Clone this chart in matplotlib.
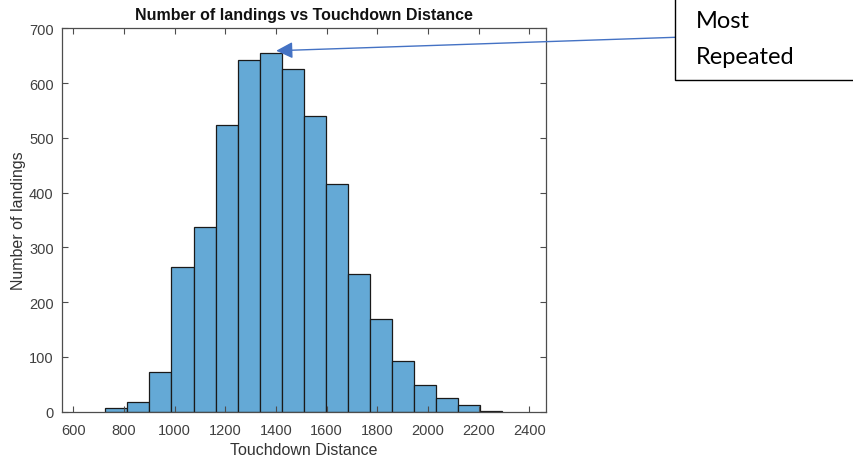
import matplotlib
matplotlib.use("Agg")
import matplotlib.pyplot as plt
import numpy as np
from matplotlib.patches import Rectangle

# Histogram of touchdown distances (auto-binned, 18 bins)
bin_start = 726.3
bin_width = 87.07
counts = [6, 17, 72, 265, 337, 523, 642, 654, 626, 540, 416, 251, 169, 93, 48, 25, 13, 2]
x_ticks = [600, 800, 1000, 1200, 1400, 1600, 1800, 2000, 2200, 2400]
y_ticks = [0, 100, 200, 300, 400, 500, 600, 700]

edges = bin_start + bin_width * np.arange(len(counts) + 1)

plt.rcParams['font.family'] = ['Liberation Sans', 'DejaVu Sans']

fig = plt.figure(figsize=(8.54, 4.64), dpi=100)
ax = fig.add_axes([0.0726, 0.1106, 0.5667, 0.8263])

ax.bar(edges[:-1], counts, width=bin_width, align='edge',
       color='#64a9d6', edgecolor='#1a1a1a', linewidth=0.9)

ax.set_xlim(555.4, 2466)
ax.set_ylim(0, 700)
ax.set_xticks(x_ticks)
ax.set_yticks(y_ticks)

axis_col = '#4d4d4d'
for s in ax.spines.values():
    s.set_color(axis_col)
    s.set_linewidth(0.9)
ax.tick_params(direction='in', length=4, width=0.8, colors=axis_col,
               labelcolor='#404040', labelsize=10.5,
               top=True, right=True)
ax.tick_params(axis='x', pad=8)
ax.tick_params(axis='y', pad=6)

ax.set_title('Number of landings vs Touchdown Distance', fontsize=11.5,
             fontweight='bold', color='#111111', pad=7)
ax.set_xlabel('Touchdown Distance', fontsize=11.5, color='#333333', labelpad=4)
ax.set_ylabel('Number of landings', fontsize=11.5, color='#333333', labelpad=2)

# Callout box on the right, partly cut by the figure edge
box_x = 675.3 / 854
box_y = 1 - 81 / 464
fig.patches.append(Rectangle((box_x, box_y), 0.3, 0.3, transform=fig.transFigure,
                             facecolor='white', edgecolor='black', linewidth=1.0))
fig.text(696 / 854, 1 - 21 / 464, 'Most', fontsize=17, family='Lato',
         va='center', ha='left', color='black')
fig.text(696 / 854, 1 - 57 / 464, 'Repeated', fontsize=17, family='Lato',
         va='center', ha='left', color='black')

# Arrow from the box to the tallest bar
peak = int(np.argmax(counts))
tip_x = edges[peak] + 0.75 * bin_width
tip_y = counts[peak] + 5
ax.annotate('', xy=(tip_x, tip_y), xycoords='data',
            xytext=(box_x, 1 - 38.3 / 464), textcoords='figure fraction',
            arrowprops=dict(arrowstyle='-|>,head_length=1.0,head_width=0.5',
                            color='#4472c4', linewidth=1.0,
                            shrinkA=0, shrinkB=0),
            annotation_clip=False)

fig.savefig('out.png', dpi=100)
